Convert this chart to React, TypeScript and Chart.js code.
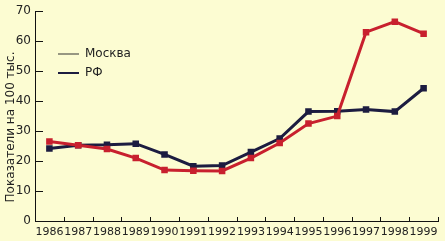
import React, { useEffect, useRef } from "react";
import { Chart, registerables } from "chart.js";

Chart.register(...registerables);

const years = ["1986","1987","1988","1989","1990","1991","1992","1993","1994","1995","1996","1997","1998","1999"];
const moscow = [26.5, 25.3, 24, 21, 17, 16.8, 16.7, 21, 26, 32.5, 35, 63, 66.5, 62.5];
const rf = [24.2, 25.3, 25.4, 25.8, 22.2, 18.3, 18.5, 23, 27.5, 36.5, 36.6, 37.2, 36.5, 44.3];
const yTitle = "Показатели на 100 тыс.";
const legendNames = ["Москва", "РФ"];

const BG = "#FCFCD2";
const RED = "#C8202E";
const NAVY = "#1C1C40";
const TXT = "#222222";
const FONT = "DejaVu Sans";

export default function App() {
  const ref = useRef<HTMLCanvasElement | null>(null);
  useEffect(() => {
    document.body.style.margin = "0";
    const canvas = ref.current!;
    const decor = {
      id: "decor",
      beforeDraw(chart: any) {
        const c = chart.ctx;
        c.save();
        c.fillStyle = BG;
        c.fillRect(0, 0, chart.width, chart.height);
        c.restore();
      },
      afterDraw(chart: any) {
        const c = chart.ctx;
        const xs = chart.scales.x;
        const ys = chart.scales.y;
        const area = chart.chartArea;
        c.save();
        c.strokeStyle = "#111";
        c.lineWidth = 1;
        for (const t of ys.ticks) {
          const py = Math.round(ys.getPixelForValue(t.value)) + 0.5;
          c.beginPath();
          c.moveTo(area.left, py);
          c.lineTo(area.left + 8, py);
          c.stroke();
        }
        const step = xs.getPixelForValue(1) - xs.getPixelForValue(0);
        for (let i = 0; i <= years.length; i++) {
          const px = Math.round(xs.getPixelForValue(i) - step / 2) + 0.5;
          c.beginPath();
          c.moveTo(px, area.bottom);
          c.lineTo(px, area.bottom - 4);
          c.stroke();
        }
        c.fillStyle = TXT;
        c.font = `12px "${FONT}"`;
        c.textAlign = "center";
        c.textBaseline = "middle";
        c.translate(11, 127);
        c.rotate(-Math.PI / 2);
        c.fillText(yTitle, 0, 0);
        c.restore();
        c.save();
        c.font = `12px "${FONT}"`;
        c.textAlign = "left";
        c.textBaseline = "middle";
        c.fillStyle = TXT;
        const ly = [54, 73];
        const lw = [1, 2];
        const lc = ["#333", NAVY];
        for (let i = 0; i < 2; i++) {
          c.strokeStyle = lc[i];
          c.lineWidth = lw[i];
          c.beginPath();
          c.moveTo(58, ly[i]);
          c.lineTo(79, ly[i]);
          c.stroke();
          c.fillText(legendNames[i], 85, ly[i]);
        }
        c.restore();
      },
    };
    const chart = new Chart(canvas, {
      type: "line",
      data: {
        labels: years,
        datasets: [
          {
            label: legendNames[0],
            data: moscow,
            borderColor: RED,
            backgroundColor: RED,
            borderWidth: 3,
            pointStyle: "rect",
            pointRadius: 2.5,
            tension: 0,
          },
          {
            label: legendNames[1],
            data: rf,
            borderColor: NAVY,
            backgroundColor: NAVY,
            borderWidth: 3,
            pointStyle: "rect",
            pointRadius: 2.5,
            tension: 0,
          },
        ],
      },
      options: {
        responsive: false,
        animation: false,
        layout: { padding: { top: 7, right: 0, left: 0, bottom: 0 } },
        plugins: { legend: { display: false }, tooltip: { enabled: false } },
        scales: {
          x: {
            offset: true,
            grid: { display: false, offset: true, drawTicks: false },
            border: { display: true, color: "#111", width: 1 },
            ticks: {
              autoSkip: false,
              maxRotation: 0,
              minRotation: 0,
              color: TXT,
              font: { family: FONT, size: 11 },
              padding: 5,
            },
            afterFit(s: any) {
              s.height = 20;
            },
          },
          y: {
            min: 0,
            max: 70,
            grid: { display: false, drawTicks: false },
            border: { display: true, color: "#111", width: 1 },
            ticks: {
              stepSize: 10,
              color: TXT,
              font: { family: FONT, size: 12 },
              padding: 4,
            },
            afterFit(s: any) {
              s.width = 35;
            },
          },
        },
      },
      plugins: [decor],
    });
    return () => chart.destroy();
  }, []);
  return <canvas ref={ref} width={445} height={241} style={{ display: "block" }} />;
}
